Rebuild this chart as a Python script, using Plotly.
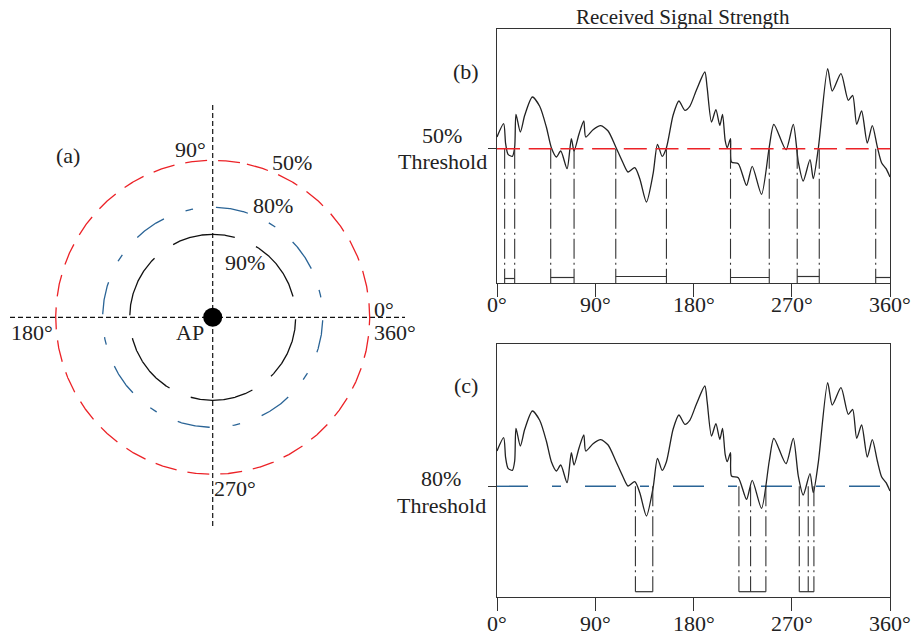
import numpy as np
import plotly.graph_objects as go

W, H = 911, 636
FONT = "Liberation Serif"
INK = "#222222"
RED = "#ec2227"
BLUE = "#2a6496"

# ---------------- data ----------------
# received signal strength vs angle (arbitrary units, same curve in (b) and (c))
angle_deg = [0, 6.1, 7.9, 10.1, 14.1, 16.2, 17.4, 21.4, 25.4, 32.4, 39.1, 45.2, 49.8, 54.4,
             58.4, 64.2, 68.1, 70.6, 75.2, 79.5, 81.3, 88.0, 95.0, 101.8, 108.8, 115.5,
             120.1, 126.2, 130.8, 136.9, 143.0, 147.0, 151.3, 155.2, 161.3, 166.6, 172.1,
             176.6, 182.8, 190.4, 192.5, 196.5, 200.5, 204.1, 206.6, 209.0, 210.9, 213.9,
             214.8, 221.0, 228.6, 233.8, 242.3, 249.4, 253.6, 264.7, 271.4, 276.0, 280.5,
             286.7, 289.7, 294.3, 302.9, 307.1, 315.1, 321.8, 325.8, 329.5, 334.0, 339.2,
             343.8, 348.4, 352.4, 356.4, 360]
rss = [146, 159.3, 139.3, 128.7, 126.7, 136, 168.7, 151, 167.7, 186, 176.7, 156, 135.3, 126,
       132, 114.3, 144.3, 132, 149.3, 162, 146, 153.3, 157.3, 152, 136, 120,
       111, 115.3, 104.3, 81, 109.3, 138.7, 126.7, 135.3, 167.7, 182, 172.7,
       176.7, 193.3, 211, 195.3, 161, 173.3, 157.7, 168.7, 142.7, 135.3, 144.3,
       121, 119.3, 97.7, 116.7, 88.7, 136, 158.7, 133.3, 158.7, 121, 102,
       123.3, 104.3, 134.3, 214.3, 192, 209.3, 182.7, 187.7, 158.7, 172, 140,
       157.3, 136, 120, 114.3, 106]

threshold_b = 134.3   # 50% threshold
threshold_c = 110.7   # 80% threshold

# angles where the signal crosses the threshold
cross_b = [7.0, 16.2, 49.2, 70.6, 108.8, 155.2, 213.9, 249.4, 275.0, 295.2, 346.9]
gaps_b = [(7.0, 16.2), (49.2, 70.6), (108.8, 155.2), (213.9, 249.4), (275.0, 295.2), (346.9, 360)]
gap_bar_b = [4.5, 5.5, 6.5, 5.5, 6.5, 5.5]

cross_c = [126.8, 142.7, 221.6, 232.3, 246.3, 276.9, 285.1, 290.3]
gaps_c = [(126.8, 142.7), (221.6, 246.3), (276.9, 290.3)]
gap_bar_c = [5.3, 5.3, 5.3]

tick_vals = [0, 90, 180, 270, 360]
tick_text = ["0°", "90°", "180°", "270°", "360°"]

# coverage rings in (a)
ring_labels = ["50%", "80%", "90%"]
ring_radius = [157, 110, 83]

# ---------------- helpers ----------------
def px_x(px):
    return px / W

def px_y(py):
    return 1 - py / H

CX, CY = 212.7, 317.3  # AP position in pixels

fig = go.Figure()

# ---- panel (b) ----
fig.add_trace(go.Scatter(x=angle_deg, y=rss, mode="lines", xaxis="x", yaxis="y",
                         line=dict(color=INK, width=1.3, shape="spline", smoothing=0.7),
                         showlegend=False, hoverinfo="skip"))
vx, vy = [], []
for a in cross_b:
    vx += [a, a, None]
    vy += [threshold_b, 0, None]
fig.add_trace(go.Scatter(x=vx, y=vy, mode="lines", xaxis="x", yaxis="y",
                         line=dict(color="#333333", width=1.1, dash="20px,4px,2px,4px"),
                         showlegend=False, hoverinfo="skip"))
bx, by = [], []
for (a0, a1), yb in zip(gaps_b, gap_bar_b):
    bx += [a0, a1, None]
    by += [yb, yb, None]
fig.add_trace(go.Scatter(x=bx, y=by, mode="lines", xaxis="x", yaxis="y",
                         line=dict(color="#333333", width=1.2),
                         showlegend=False, hoverinfo="skip"))
fig.add_trace(go.Scatter(x=[0, 360], y=[threshold_b, threshold_b], mode="lines",
                         xaxis="x", yaxis="y",
                         line=dict(color=RED, width=1.4, dash="23px,8.7px"),
                         showlegend=False, hoverinfo="skip"))

# ---- panel (c) ----
fig.add_trace(go.Scatter(x=[0, 360], y=[threshold_c, threshold_c], mode="lines",
                         xaxis="x2", yaxis="y2",
                         line=dict(color=BLUE, width=1.4, dash="31px,24px,9px,24px"),
                         showlegend=False, hoverinfo="skip"))
fig.add_trace(go.Scatter(x=angle_deg, y=rss, mode="lines", xaxis="x2", yaxis="y2",
                         line=dict(color=INK, width=1.3, shape="spline", smoothing=0.7),
                         showlegend=False, hoverinfo="skip"))
vx, vy = [], []
for a in cross_c:
    vx += [a, a, None]
    vy += [threshold_c, 5.3, None]
fig.add_trace(go.Scatter(x=vx, y=vy, mode="lines", xaxis="x2", yaxis="y2",
                         line=dict(color="#333333", width=1.1, dash="20px,4px,2px,4px"),
                         showlegend=False, hoverinfo="skip"))
bx, by = [], []
for (a0, a1), yb in zip(gaps_c, gap_bar_c):
    bx += [a0, a1, None]
    by += [yb, yb, None]
fig.add_trace(go.Scatter(x=bx, y=by, mode="lines", xaxis="x2", yaxis="y2",
                         line=dict(color="#333333", width=1.2),
                         showlegend=False, hoverinfo="skip"))

# ---- panel (a) ----
# crosshair
fig.add_trace(go.Scatter(x=[10 - CX, 405 - CX], y=[0, 0], mode="lines", xaxis="x3", yaxis="y3",
                         line=dict(color="#111111", width=1.2, dash="5px,3px"),
                         showlegend=False, hoverinfo="skip"))
fig.add_trace(go.Scatter(x=[0, 0], y=[CY - 105, CY - 527], mode="lines", xaxis="x3", yaxis="y3",
                         line=dict(color="#111111", width=1.2, dash="5px,3px"),
                         showlegend=False, hoverinfo="skip"))

ring_style = {
    "50%": dict(color=RED, start=80.0, dash="22px,11px"),
    "80%": dict(color=BLUE, start=26.3, dash="32.6px,23px,7.7px,23.1px"),
    "90%": dict(color="#111111", start=14.5, dash="63.7px,23.2px"),
}
for lab, r in zip(ring_labels, ring_radius):
    st = ring_style[lab]
    th = np.radians(st["start"]) + np.linspace(0, 2 * np.pi, 1441)
    fig.add_trace(go.Scatter(x=r * np.cos(th), y=r * np.sin(th), mode="lines",
                             xaxis="x3", yaxis="y3",
                             line=dict(color=st["color"], width=1.3, dash=st["dash"]),
                             showlegend=False, hoverinfo="skip"))

fig.add_trace(go.Scatter(x=[0], y=[0], mode="markers", xaxis="x3", yaxis="y3",
                         marker=dict(color="#000000", size=19),
                         showlegend=False, hoverinfo="skip"))

# ---------------- layout ----------------
axis_common = dict(showline=True, mirror=True, linecolor="#333333", linewidth=1.2,
                   showgrid=False, zeroline=False, automargin=False)
xdom = [px_x(497), px_x(890)]
fig.update_layout(
    template="none",
    width=W, height=H, autosize=False,
    margin=dict(l=0, r=0, t=0, b=0, pad=0, autoexpand=False),
    paper_bgcolor="white", plot_bgcolor="white",
    xaxis=dict(domain=xdom, range=[0, 360], anchor="y", tickvals=tick_vals,
               showticklabels=False,
               ticks="outside", ticklen=13, tickwidth=1.2, tickcolor="#333333", **axis_common),
    yaxis=dict(domain=[px_y(283), px_y(29)], range=[0, 254], anchor="x",
               tickvals=[threshold_b], showticklabels=False, ticks="outside", ticklen=8,
               tickwidth=1.2, tickcolor="#333333", **axis_common),
    xaxis2=dict(domain=xdom, range=[0, 360], anchor="y2", tickvals=tick_vals,
                showticklabels=False,
                ticks="outside", ticklen=13, tickwidth=1.2, tickcolor="#333333", **axis_common),
    yaxis2=dict(domain=[px_y(597), px_y(344)], range=[0, 253], anchor="x2",
                tickvals=[threshold_c], showticklabels=False, ticks="outside", ticklen=8,
                tickwidth=1.2, tickcolor="#333333", **axis_common),
    xaxis3=dict(domain=[0, px_x(420)], range=[-CX, 420 - CX], anchor="y3", visible=False,
                automargin=False),
    yaxis3=dict(domain=[0, 1], range=[CY - H, CY], anchor="x3", visible=False,
                automargin=False),
)

def note(text, px, py, size=22):
    fig.add_annotation(text=text, x=px_x(px), y=px_y(py), xref="paper", yref="paper",
                       showarrow=False, xanchor="center", yanchor="middle",
                       font=dict(family=FONT, size=size, color=INK))

# x tick labels drawn on the axis scale
for xr, py in (("x", 304), ("x2", 623)):
    for v, t in zip(tick_vals, tick_text):
        fig.add_annotation(text=t, x=v, y=px_y(py), xref=xr, yref="paper",
                           showarrow=False, xanchor="center", yanchor="middle",
                           font=dict(family=FONT, size=22, color=INK))

note("Received Signal Strength", 682.5, 17, 21)
note("(b)", 466, 72)
note("(c)", 466, 385)
note("50%", 442, 135)
note("Threshold", 442, 161)
note("80%", 441, 478)
note("Threshold", 441, 505)

note("(a)", 68, 155)
note("90°", 190, 149)
note("0°", 384, 309)
note("360°", 395, 332)
note("180°", 32, 332)
note("AP", 190, 332)
note("270°", 235, 488)
ring_label_pos = {"50%": (292, 162), "80%": (273, 205), "90%": (245, 262)}
for lab in ring_labels:
    note(lab, *ring_label_pos[lab])

fig.write_html("out.html")
